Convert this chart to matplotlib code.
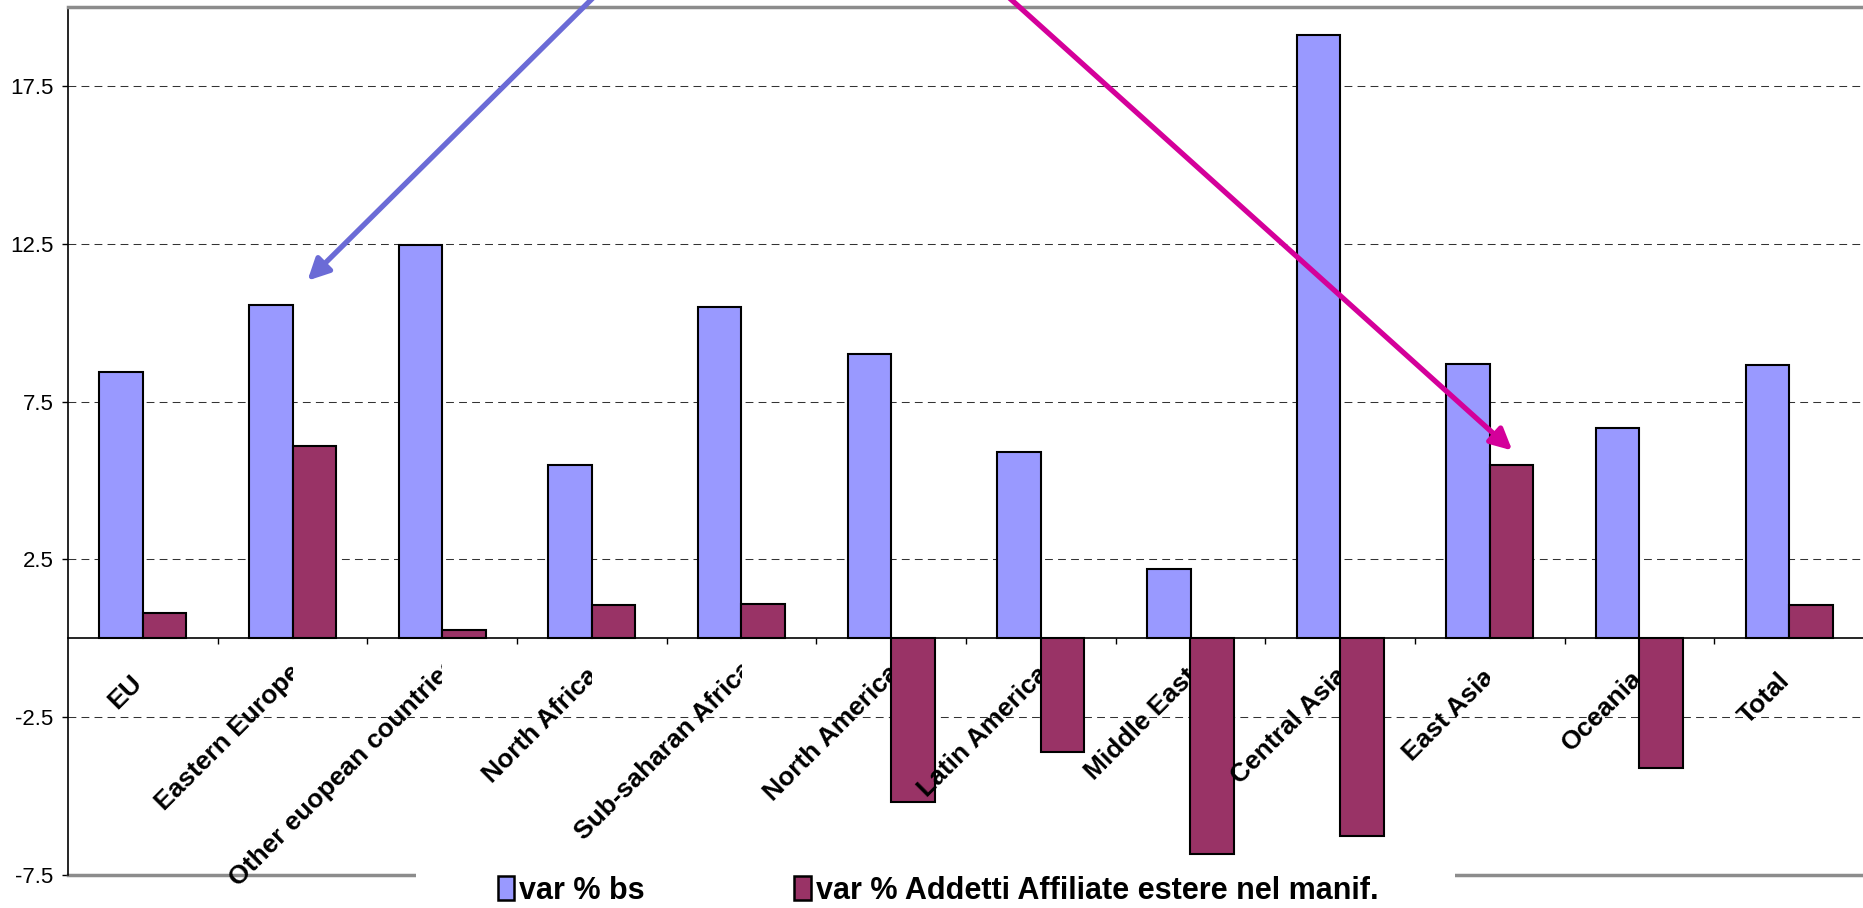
import matplotlib
matplotlib.use("Agg")
import numpy as np
import matplotlib.pyplot as plt
from matplotlib.patches import Patch, Rectangle
from matplotlib.transforms import Bbox, TransformedBbox, offset_copy

categories = ["EU", "Eastern Europe", "Other euopean countries", "North Africa",
              "Sub-saharan Africa", "North America", "Latin America", "Middle East",
              "Central Asia", "East Asia", "Oceania", "Total"]
var_bs = [8.45, 10.55, 12.45, 5.5, 10.5, 9.0, 5.9, 2.2, 19.1, 8.7, 6.65, 8.65]
var_addetti = [0.8, 6.1, 0.25, 1.05, 1.1, -5.2, -3.6, -6.85, -6.25, 5.5, -4.1, 1.05]
yticks = [-7.5, -2.5, 2.5, 7.5, 12.5, 17.5]
series_names = ["var % bs", "var % Addetti Affiliate estere nel manif."]

blue = "#9999FF"
red = "#993366"

fig = plt.figure(figsize=(18.63, 9.08), dpi=100)
ax = fig.add_axes([68/1863, 1-875/908, 1796/1863, (875-7)/908])

x = np.arange(len(categories))
w = 0.29
ax.bar(x - w/2, var_bs, w, color=blue, edgecolor="black", linewidth=1.5, zorder=3)
ax.bar(x + w/2, var_addetti, w, color=red, edgecolor="black", linewidth=1.5, zorder=3)

ax.set_xlim(-0.5, len(categories) - 0.5)
ax.set_ylim(-7.5, 20)

# grid + axes look (excel style)
for v in yticks[1:]:
    ax.axhline(v, color="#333333", lw=0.75, dashes=(7.5, 5), zorder=1)
ax.set_yticks(yticks)
ax.set_yticklabels([f"{v:g}" for v in yticks], fontsize=16, family="Liberation Sans")
ax.tick_params(axis="y", direction="out", length=4.5, width=1, pad=6)

ax.spines["bottom"].set_position(("data", 0))
ax.spines["bottom"].set_linewidth(1.2)
ax.spines["left"].set_linewidth(1.2)
ax.spines["top"].set_color("#8c8c8c")
ax.spines["top"].set_linewidth(2.5)
ax.spines["right"].set_visible(False)
ax.axhline(-7.5, color="#8c8c8c", lw=2.5, clip_on=False, zorder=2)

ax.set_xticks(np.arange(0.5, len(categories) - 0.5, 1))
ax.set_xticklabels([])
ax.tick_params(axis="x", direction="out", length=4.5, width=1)

# rotated category labels: excel lets long ones run a bit past the tick
# centre and then cuts them there
renderer = fig.canvas.get_renderer()
lab_font = dict(fontsize=19, fontweight="bold", family="Liberation Sans")
for i, name in enumerate(categories):
    tmp = ax.text(0, 0, name, **lab_font)
    L = tmp.get_window_extent(renderer).width
    tmp.remove()
    s = (0.09 * L - 3) * 72 / fig.dpi  # shift along the baseline, in points
    tr = offset_copy(ax.transData, fig=fig, x=s * 0.7071, y=s * 0.7071, units="points")
    t = ax.text(i, -1.45, name, rotation=45, rotation_mode="anchor", ha="right", va="baseline",
                transform=tr, zorder=6, **lab_font)
    t.set_clip_path(None)
    t.set_clip_box(TransformedBbox(Bbox([[-1, -12], [i, 0]]), ax.transData))
    t.set_clip_on(True)

# the two arrows
ax.annotate("", xy=(1.10, 11.33), xytext=(3.67, 23.4),
            arrowprops=dict(arrowstyle="-|>", color="#6B6BD6", lw=3.8, mutation_scale=32,
                            shrinkA=0, shrinkB=0), annotation_clip=False, zorder=7)
ax.annotate("", xy=(9.15, 5.95), xytext=(5.06, 23.4),
            arrowprops=dict(arrowstyle="-|>", color="#D4009A", lw=3.8, mutation_scale=32,
                            shrinkA=0, shrinkB=0), annotation_clip=False, zorder=7)

# legend sits on a white block over the bottom border
fig.patches.append(Rectangle((416/1863, 0), (1455-416)/1863, 1-862/908, transform=fig.transFigure,
                             facecolor="white", edgecolor="none", zorder=4))
handles = [Patch(facecolor=blue, edgecolor="black", linewidth=1.8, label=series_names[0]),
           Patch(facecolor=red, edgecolor="black", linewidth=1.8, label=series_names[1])]
fig.legend(handles=handles, loc="center", bbox_to_anchor=(0.5035, 0.019), ncol=2, frameon=False,
           prop=dict(family="Liberation Sans", weight="bold", size=22),
           handlelength=0.55, handleheight=0.85, handletextpad=0.15, columnspacing=4.9)

fig.savefig("out.png", dpi=100)
